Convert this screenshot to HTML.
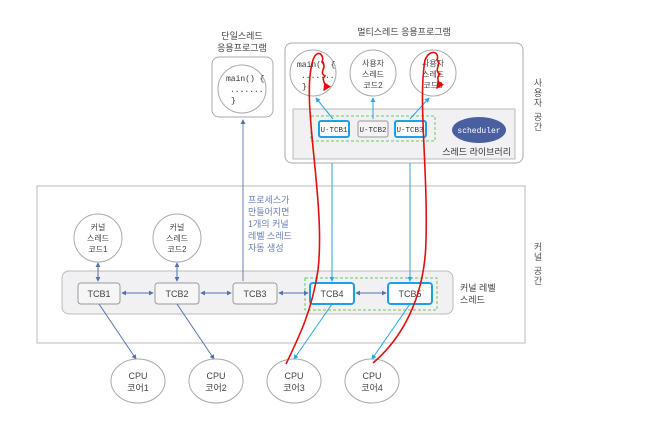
<!DOCTYPE html>
<html><head><meta charset="utf-8"><style>
html,body{margin:0;padding:0;background:#fff;}
svg{display:block;font-family:"Liberation Sans","Noto Sans CJK KR",sans-serif;}
.t{font-size:9px;fill:#444;text-anchor:middle;}
.m{font-family:"Liberation Mono","Noto Sans CJK KR",monospace;font-size:8px;fill:#333;}
</style></head><body>
<svg width="648" height="423" viewBox="0 0 648 423" xmlns="http://www.w3.org/2000/svg">
<defs>
<marker id="a" viewBox="0 0 6 6" refX="5" refY="3" markerWidth="5" markerHeight="5" orient="auto-start-reverse"><path d="M0,0L6,3L0,6z" fill="#5570b0"/></marker>
<marker id="b" viewBox="0 0 6 6" refX="5" refY="3" markerWidth="5" markerHeight="5" orient="auto-start-reverse"><path d="M0,0L6,3L0,6z" fill="#2aa6e0"/></marker>
<marker id="r" viewBox="0 0 6 6" refX="5" refY="3" markerWidth="5" markerHeight="5" orient="auto"><path d="M0,0L6,3L0,6z" fill="#e00"/></marker>
</defs>
<!-- kernel space -->
<rect x="37" y="186" width="488" height="157" fill="#fff" stroke="#bbb"/>
<rect x="62" y="271" width="391" height="43" rx="7" fill="#f1f1f3" stroke="#bbb"/>
<rect x="305" y="278" width="132" height="32" fill="none" stroke="#6c6" stroke-dasharray="3,2"/>
<g stroke="#999" fill="#f6f6f6">
<rect x="78" y="283" width="42" height="21" rx="3"/>
<rect x="155" y="283" width="44" height="21" rx="3"/>
<rect x="233" y="283" width="44" height="21" rx="3"/>
</g>
<rect x="310" y="283" width="44" height="21" rx="3" fill="#fff" stroke="#1ea0e6" stroke-width="2"/>
<rect x="388" y="283" width="44" height="21" rx="3" fill="#fff" stroke="#1ea0e6" stroke-width="2"/>
<g class="t" style="font-size:9px">
<text x="99" y="297">TCB1</text><text x="177" y="297">TCB2</text><text x="255" y="297">TCB3</text><text x="332" y="297">TCB4</text><text x="410" y="297">TCB5</text>
</g>
<g stroke="#5570b0" stroke-width="1" marker-start="url(#a)" marker-end="url(#a)">
<line x1="122" y1="293" x2="153" y2="293"/><line x1="201" y1="293" x2="231" y2="293"/><line x1="279" y1="293" x2="308" y2="293"/><line x1="356" y1="293" x2="386" y2="293"/>
<line x1="98" y1="263" x2="98" y2="281"/><line x1="177" y1="263" x2="177" y2="281"/>
</g>
<circle cx="98" cy="238" r="24" fill="#fff" stroke="#aaa"/>
<circle cx="177" cy="238" r="24" fill="#fff" stroke="#aaa"/>
<g class="t" style="font-size:8px"><text x="98" y="230">커널</text><text x="98" y="241">스레드</text><text x="98" y="252">코드1</text>
<text x="177" y="230">커널</text><text x="177" y="241">스레드</text><text x="177" y="252">코드2</text></g>
<text x="460" y="291" style="font-size:9px;fill:#444">커널 레벨</text><text x="460" y="303" style="font-size:9px;fill:#444">스레드</text>
<g style="font-size:9px;fill:#6a7fb8"><text x="248" y="203">프로세스가</text><text x="248" y="215">만들어지면</text><text x="248" y="227">1개의 커널</text><text x="248" y="239">레벨 스레드</text><text x="248" y="251">자동 생성</text></g>
<!-- CPU -->
<g stroke="#5570b0" fill="none" marker-end="url(#a)"><line x1="99" y1="304" x2="136" y2="359"/><line x1="177" y1="304" x2="214" y2="359"/></g>
<g stroke="#2aa6e0" fill="none" marker-end="url(#b)"><line x1="332" y1="304" x2="294" y2="359"/><line x1="410" y1="304" x2="372" y2="359"/>
<line x1="332" y1="127" x2="332" y2="281"/><line x1="410" y1="127" x2="410" y2="281"/></g>
<line x1="243" y1="281" x2="243" y2="120" stroke="#6a7fb8" marker-end="url(#a)" stroke-dasharray="0"/>
<g fill="#fff" stroke="#aaa"><ellipse cx="138" cy="381" rx="27" ry="22"/><ellipse cx="216" cy="381" rx="27" ry="22"/><ellipse cx="294" cy="381" rx="27" ry="22"/><ellipse cx="372" cy="381" rx="27" ry="22"/></g>
<g class="t"><text x="138" y="379">CPU</text><text x="138" y="391">코어1</text><text x="216" y="379">CPU</text><text x="216" y="391">코어2</text><text x="294" y="379">CPU</text><text x="294" y="391">코어3</text><text x="372" y="379">CPU</text><text x="372" y="391">코어4</text></g>
<!-- single -->
<text class="t" x="242" y="39">단일스레드</text><text class="t" x="242" y="51">응용프로그램</text>
<rect x="212" y="57" width="61" height="60" rx="7" fill="#fff" stroke="#aaa"/>
<circle cx="242" cy="89" r="24" fill="#fff" stroke="#aaa"/>
<text class="m" x="226" y="81">main() {</text><text class="m" x="230" y="92">.......</text><text class="m" x="231" y="103">}</text>
<!-- multi -->
<text class="t" x="404" y="35">멀티스레드 응용프로그램</text>
<rect x="285" y="43" width="238" height="120" rx="7" fill="#fff" stroke="#aaa"/>
<rect x="293" y="109" width="222" height="50" fill="#f1f1f3" stroke="#bbb"/>
<rect x="311" y="116" width="124" height="25" fill="none" stroke="#6c6" stroke-dasharray="3,2"/>
<g stroke="#2aa6e0" marker-end="url(#b)"><line x1="333" y1="119" x2="316" y2="98"/><line x1="373" y1="119" x2="373" y2="98"/><line x1="410" y1="119" x2="429" y2="98"/></g>
<circle cx="313" cy="73" r="23" fill="#fff" stroke="#aaa"/><circle cx="373" cy="73" r="23" fill="#fff" stroke="#aaa"/><circle cx="433" cy="73" r="23" fill="#fff" stroke="#aaa"/>
<text class="m" x="297" y="67">main() {</text><text class="m" x="301" y="78">.......</text><text class="m" x="302" y="89">}</text>
<g class="t" style="font-size:8px"><text x="373" y="66">사용자</text><text x="373" y="77">스레드</text><text x="373" y="88">코드2</text>
<text x="433" y="66">사용자</text><text x="433" y="77">스레드</text><text x="433" y="88">코드3</text></g>
<rect x="319" y="121" width="30" height="16" rx="2" fill="#fff" stroke="#1ea0e6" stroke-width="2"/>
<rect x="358" y="121" width="30" height="16" rx="2" fill="#f4f4f4" stroke="#999"/>
<rect x="395" y="121" width="31" height="16" rx="2" fill="#fff" stroke="#1ea0e6" stroke-width="2"/>
<g class="m" style="font-size:7.5px" text-anchor="middle"><text x="334" y="132" text-anchor="middle">U-TCB1</text><text x="373" y="132" text-anchor="middle">U-TCB2</text><text x="410" y="132" text-anchor="middle">U-TCB3</text></g>
<ellipse cx="479" cy="130" rx="27" ry="13" fill="#4a5fa0"/>
<text x="479" y="133" text-anchor="middle" style="font-family:'Liberation Mono',monospace;font-size:8px;fill:#fff">scheduler</text>
<text x="511" y="155" text-anchor="end" style="font-size:9px;fill:#333">스레드 라이브러리</text>
<!-- vertical labels -->
<g class="t" style="font-size:9px;fill:#555"><text x="538" y="86">사</text><text x="538" y="96">용</text><text x="538" y="106">자</text><text x="538" y="120">공</text><text x="538" y="130">간</text>
<text x="538" y="250">커</text><text x="538" y="260">널</text><text x="538" y="274">공</text><text x="538" y="284">간</text></g>
<!-- red paths -->
<g stroke="#e01010" stroke-width="1.6" fill="none">
<path d="M286,364 C300,335 312,310 318,270 C326,200 300,100 313,60 C317,48 325,55 322,62 C328,68 318,72 325,76 C320,80 328,84 324,90" marker-end="url(#r)"/>
<path d="M373,363 C400,340 425,300 426,240 C428,170 418,100 425,60 C430,48 440,52 437,60 C442,65 433,70 440,74 C435,78 441,82 437,88" marker-end="url(#r)"/>
</g>
</svg>
</body></html>
